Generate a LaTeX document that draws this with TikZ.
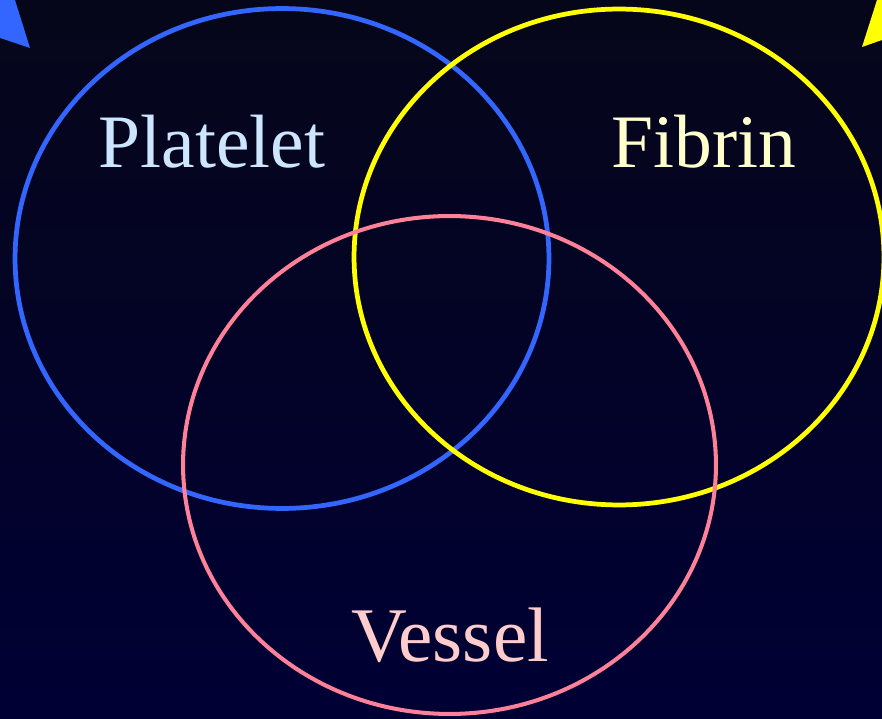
\documentclass[tikz,border=0pt]{standalone}
\usepackage{fontspec}
\setmainfont{Liberation Serif}
\usetikzlibrary{shapes.geometric}

\definecolor{bgtop}{HTML}{06061A}
\definecolor{bgbot}{HTML}{000035}
\definecolor{plateletblue}{HTML}{3366FF}
\definecolor{fibrinyellow}{HTML}{FFFF00}
\definecolor{vesselpink}{HTML}{FF8099}
\definecolor{platelettext}{HTML}{CCE6FF}
\definecolor{fibrintext}{HTML}{FFFFCC}
\definecolor{vesseltext}{HTML}{FFCCCC}

\begin{document}
\begin{tikzpicture}[
    x=0.02cm, y=-0.02cm,
    set/.style={draw, ellipse, line width=2.7pt, inner sep=0pt},
    setname/.style={font=\fontsize{43}{50}\selectfont, anchor=base}
]
% background
\shade[top color=bgtop, bottom color=bgbot] (0,0) rectangle (882,719);
\useasboundingbox (0,0) rectangle (882,719);

% corner tips
\fill[plateletblue] (0,0) -- (15,0) -- (30,48) -- (0,38) -- cycle;
\fill[fibrinyellow] (877,0) -- (882,0) -- (882,40) -- (862,47) -- cycle;

% the three sets
\node[set, plateletblue, minimum width=10.68cm, minimum height=10.0cm] (platelet) at (282,258.5) {};
\node[set, fibrinyellow, minimum width=10.6cm, minimum height=9.92cm] (fibrin) at (619,257) {};
\node[set, vesselpink, line width=2.3pt, minimum width=10.66cm, minimum height=9.96cm] (vessel) at (449.5,465) {};

\node[setname, text=platelettext] (plateletlabel) at (212,168) {Platelet};
\node[setname, text=fibrintext] (fibrinlabel) at (704,168) {Fibrin};
\node[setname, text=vesseltext, font=\fontsize{44}{50}\selectfont] (vessellabel) at (450,661) {Vessel};
\end{tikzpicture}
\end{document}
